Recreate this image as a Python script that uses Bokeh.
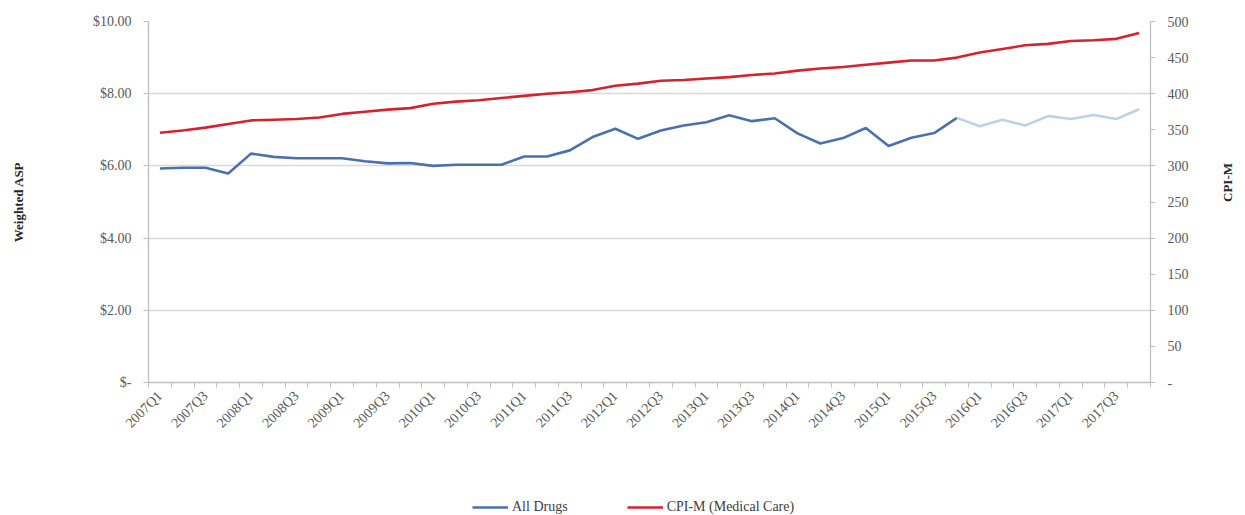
import math
from bokeh.plotting import figure
from bokeh.layouts import column
from bokeh.models import (Range1d, LinearAxis, FixedTicker, Legend, LegendItem)
from bokeh.embed import file_html
from bokeh.resources import INLINE

quarters = [
    "2007Q1", "2007Q2", "2007Q3", "2007Q4", "2008Q1", "2008Q2", "2008Q3", "2008Q4",
    "2009Q1", "2009Q2", "2009Q3", "2009Q4", "2010Q1", "2010Q2", "2010Q3", "2010Q4",
    "2011Q1", "2011Q2", "2011Q3", "2011Q4", "2012Q1", "2012Q2", "2012Q3", "2012Q4",
    "2013Q1", "2013Q2", "2013Q3", "2013Q4", "2014Q1", "2014Q2", "2014Q3", "2014Q4",
    "2015Q1", "2015Q2", "2015Q3", "2015Q4", "2016Q1", "2016Q2", "2016Q3", "2016Q4",
    "2017Q1", "2017Q2", "2017Q3", "2017Q4",
]

# Weighted ASP, All Drugs (left axis, $)
all_drugs = [
    5.93, 5.95, 5.95, 5.79, 6.34, 6.25, 6.21, 6.21, 6.21, 6.13, 6.07, 6.08,
    6.00, 6.03, 6.03, 6.03, 6.26, 6.26, 6.43, 6.80, 7.03, 6.75, 6.98, 7.12,
    7.21, 7.40, 7.24, 7.32, 6.90, 6.62, 6.77, 7.05, 6.55, 6.78, 6.91, 7.33,
    7.10, 7.28, 7.12, 7.38, 7.30, 7.41, 7.30, 7.57,
]
# last quarter drawn in dark blue (later quarters drawn light)
actual_last = "2015Q4"

# CPI-M (Medical Care), right axis
cpi_m = [
    346, 349, 353, 358, 363, 364, 365, 367, 372, 375, 378, 380,
    386, 389, 391, 394, 397, 400, 402, 405, 411, 414, 418, 419,
    421, 423, 426, 428, 432, 435, 437, 440, 443, 446, 446, 450,
    457, 462, 467, 469, 473, 474, 476, 484,
]

series_names = ["All Drugs", "CPI-M (Medical Care)"]

left_ticks = [0, 2, 4, 6, 8, 10]
left_labels = ["$-", "$2.00", "$4.00", "$6.00", "$8.00", "$10.00"]
right_ticks = [0, 50, 100, 150, 200, 250, 300, 350, 400, 450, 500]
right_labels = ["-", "50", "100", "150", "200", "250", "300", "350", "400", "450", "500"]

FONT = "Liberation Serif"
TICK_COLOR = "#595959"
AXIS_COLOR = "#bfbfbf"
GRID_COLOR = "#d9d9d9"
BLUE = "#4a70ad"
LIGHT_BLUE = "#bed1ec"
RED = "#d4222f"

n = len(quarters)
xs = list(range(n))
split = quarters.index(actual_last)

W, H, LH = 1245, 492, 23
p = figure(width=W, height=H, output_backend="svg", toolbar_location=None,
           x_range=Range1d(-0.5, n - 0.5), y_range=Range1d(0, 10),
           min_border_left=148, min_border_right=W - 1153, min_border_top=21,
           min_border_bottom=H - 382, outline_line_color=None)
p.extra_y_ranges = {"cpi": Range1d(0, 500)}

# lines
p.line(xs[:split + 1], all_drugs[:split + 1], line_color=BLUE, line_width=2.6)
p.line(xs[split:], all_drugs[split:], line_color=LIGHT_BLUE, line_width=2.6)
p.line(xs, cpi_m, line_color=RED, line_width=2.6, y_range_name="cpi")

# grid
p.xgrid.visible = False
p.ygrid.ticker = FixedTicker(ticks=left_ticks)
p.ygrid.grid_line_color = GRID_COLOR
p.ygrid.grid_line_width = 1.3

# x axis
xa = p.xaxis[0]
xa.ticker = FixedTicker(ticks=list(range(0, n, 2)),
                        minor_ticks=[i - 0.5 for i in range(n + 1)])
xa.major_label_overrides = {i: quarters[i] for i in range(0, n, 2)}
xa.major_label_orientation = math.pi / 4
xa.major_tick_out = 0
xa.major_tick_in = 0
xa.minor_tick_out = 5
xa.minor_tick_in = 0
xa.minor_tick_line_color = AXIS_COLOR
xa.axis_line_color = AXIS_COLOR
xa.axis_line_width = 1.3
xa.major_label_text_font = FONT
xa.major_label_text_font_size = "14px"
xa.major_label_text_color = TICK_COLOR
xa.major_label_standoff = 6

# left axis
ya = p.yaxis[0]
ya.ticker = FixedTicker(ticks=left_ticks)
ya.major_label_overrides = {t: l for t, l in zip(left_ticks, left_labels)}
ya.major_tick_out = 5
ya.major_tick_in = 0
ya.minor_tick_out = 0
ya.minor_tick_in = 0
ya.major_tick_line_color = AXIS_COLOR
ya.axis_line_color = AXIS_COLOR
ya.axis_line_width = 1.3
ya.major_label_text_font = FONT
ya.major_label_text_font_size = "14px"
ya.major_label_text_color = TICK_COLOR
ya.major_label_standoff = 12
ya.axis_label = "Weighted ASP"
ya.axis_label_text_font = FONT
ya.axis_label_text_font_style = "bold"
ya.axis_label_text_font_size = "13px"
ya.axis_label_text_color = "#262626"
ya.axis_label_standoff = 64

# right axis
ra = LinearAxis(y_range_name="cpi", ticker=FixedTicker(ticks=right_ticks))
ra.major_label_overrides = {t: l for t, l in zip(right_ticks, right_labels)}
ra.major_tick_out = 5
ra.major_tick_in = 0
ra.minor_tick_out = 0
ra.minor_tick_in = 0
ra.major_tick_line_color = AXIS_COLOR
ra.axis_line_color = AXIS_COLOR
ra.axis_line_width = 1.3
ra.major_label_text_font = FONT
ra.major_label_text_font_size = "14px"
ra.major_label_text_color = TICK_COLOR
ra.major_label_standoff = 12
ra.axis_label = "CPI-M"
ra.axis_label_text_font = FONT
ra.axis_label_text_font_style = "bold"
ra.axis_label_text_font_size = "13px"
ra.axis_label_text_color = "#262626"
ra.axis_label_standoff = 36
ra.axis_label_orientation = math.pi / 2
p.add_layout(ra, "right")

# legend strip below the chart (its frame is aligned with the chart's frame);
# the key lines reuse the series, which lie outside this strip's ranges
lf = figure(width=W, height=LH, output_backend="svg", toolbar_location=None,
            x_range=Range1d(0, 1), y_range=Range1d(0, 1),
            min_border_left=0, min_border_right=0, min_border_top=0,
            min_border_bottom=0, outline_line_color=None)
lf.axis.visible = False
lf.grid.visible = False
k1 = lf.line(xs, all_drugs, line_color=BLUE, line_width=2.6)
k2 = lf.line(xs, cpi_m, line_color=RED, line_width=2.6)
legend = Legend(items=[LegendItem(label=series_names[0], renderers=[k1]),
                       LegendItem(label=series_names[1], renderers=[k2])],
                orientation="horizontal", location=(472 - 148, 0),
                padding=0, margin=0, spacing=59, glyph_width=36, glyph_height=14,
                label_standoff=4, label_text_font=FONT, label_text_font_size="14px",
                label_text_color="#404040", border_line_alpha=0,
                background_fill_alpha=0)
lf.add_layout(legend, "center")

layout = column(p, lf, spacing=0)
open("out.html", "w").write(file_html(layout, INLINE))
